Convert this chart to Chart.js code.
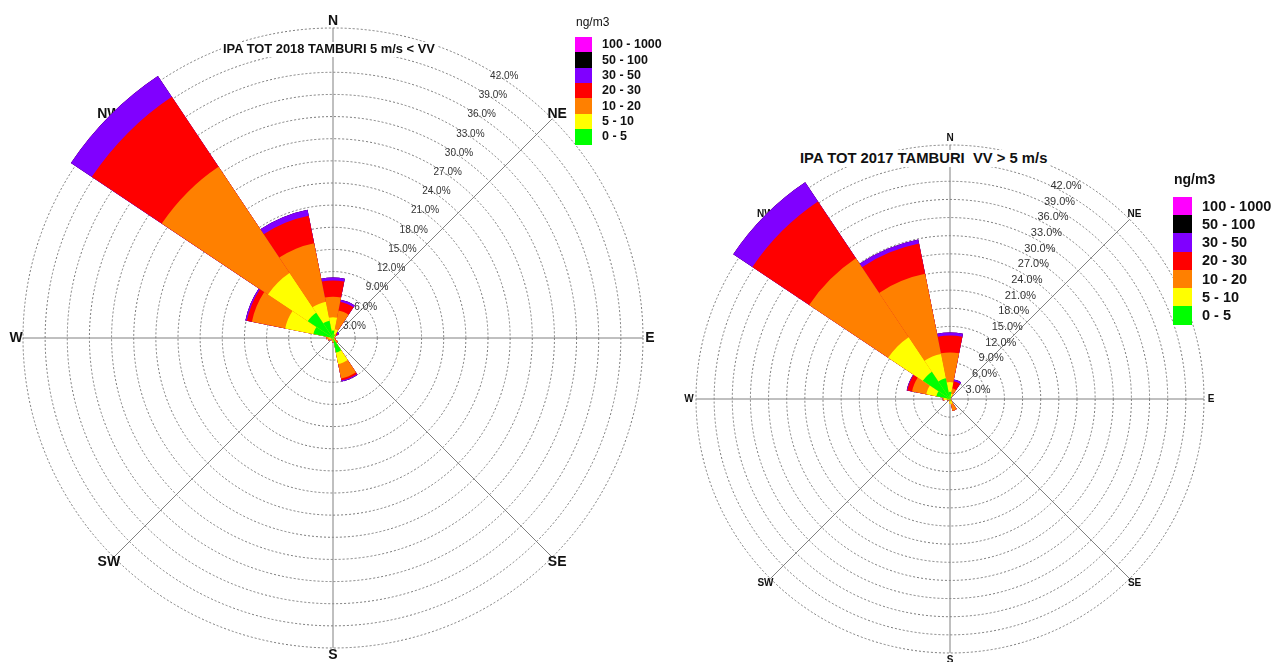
<!DOCTYPE html>
<html>
<head>
<meta charset="utf-8">
<title>IPA TOT - Tamburi</title>
<script src="https://cdn.jsdelivr.net/npm/chart.js@4.4.1/dist/chart.umd.min.js"></script>
<style>
  body { margin: 0; background: #fff; width: 1275px; height: 662px; overflow: hidden; position: relative;
         font-family: 'Liberation Sans', Arial, sans-serif; }
  canvas { position: absolute; top: 0; }
  .title { position: absolute; background: #fff; font-weight: bold; color: #111; white-space: pre; line-height: 1; padding: 1px 2px; }
  .lg { position: absolute; color: #111; line-height: 1; white-space: pre; }
  .box { position: absolute; }
</style>
</head>
<body>
<canvas id="c2018" width="660" height="662" style="left:0"></canvas>
<canvas id="c2017" width="615" height="662" style="left:660px"></canvas>
<div class="title" style="left:221px;top:42px;font-size:12.9px">IPA TOT 2018 TAMBURI 5 m/s &lt; VV</div>
<div class="title" style="left:798px;top:150px;font-size:14.8px">IPA TOT 2017 TAMBURI  VV &gt; 5 m/s</div>
<div id="legends"></div>
<script>
// Wind rose data: frequency (%) of hours per direction sector, split by concentration class
const directions = ['N', 'NNE', 'NE', 'ENE', 'E', 'ESE', 'SE', 'SSE', 'S', 'SSW', 'SW', 'WSW', 'W', 'WNW', 'NW', 'NNW'];
const compassLabels = ['N', 'NE', 'E', 'SE', 'S', 'SW', 'W', 'NW'];
const classLabels = ['0 - 5', '5 - 10', '10 - 20', '20 - 30', '30 - 50', '50 - 100', '100 - 1000'];
const classColors = ['#00ff00', '#ffff00', '#ff8000', '#ff0000', '#8000ff', '#000000', '#ff00ff'];
const ringTicks = [3, 6, 9, 12, 15, 18, 21, 24, 27, 30, 33, 36, 39, 42];

// 2018, 5 m/s < VV           N    NNE  NE   ENE  E     ESE  SE   SSE  S    SSW  SW   WSW  W    WNW  NW    NNW
const f2018_0_5      = [1.0, 0.5, 0.2, 0.1, 0.05, 0.1, 0.1, 2.0, 0.3, 0.1, 0.1, 0.2, 0.3, 2.7, 4.1,  2.4];
const f2018_5_10     = [1.8, 0.7, 0.2, 0.1, 0.05, 0.1, 0.2, 1.6, 0.2, 0.1, 0.1, 0.2, 0.3, 3.9, 6.5,  2.6];
const f2018_10_20    = [2.8, 2.6, 0.2, 0.1, 0,    0.2, 0.5, 2.0, 0.1, 0.1, 0.2, 0.3, 0.3, 4.6, 17.3, 8.1];
const f2018_20_30    = [2.2, 1.2, 0.2, 0,   0,    0,   0,   0.25, 0,  0,   0,   0,   0,   0.7, 11.4, 3.8];
const f2018_30_50    = [0.4, 0.3, 0.2, 0,   0,    0,   0,   0.15, 0,  0,   0,   0,   0,   0.2, 3.4,  0.8];
const f2018_50_100   = [0, 0, 0, 0, 0, 0, 0, 0, 0, 0, 0, 0, 0, 0, 0, 0];
const f2018_100_1000 = [0, 0, 0, 0, 0, 0, 0, 0, 0, 0, 0, 0, 0, 0, 0, 0];

// 2017, VV > 5 m/s           N    NNE  NE   ENE   E  ESE   SE   SSE  S    SSW  SW   WSW  W    WNW  NW    NNW
const f2017_0_5      = [1.2, 0.4, 0.1, 0.05, 0, 0.05, 0.1, 0.3, 0.3, 0.1, 0.1, 0.2, 0.5, 2.3, 5.4,  3.5];
const f2017_5_10     = [1.6, 0.5, 0.1, 0,    0, 0,    0.1, 0.5, 0.5, 0.1, 0,   0.2, 0.5, 1.7, 6.9,  4.1];
const f2017_10_20    = [4.9, 0.9, 0.1, 0,    0, 0,    0.2, 1.2, 0,   0,   0,   0.1, 0.2, 2.4, 15.7, 13.5];
const f2017_20_30    = [2.8, 1.2, 0,   0,    0, 0,    0,   0,   0,   0,   0,   0,   0,   0.8, 11.3, 5.1];
const f2017_30_50    = [0.5, 0.3, 0,   0,    0, 0,    0,   0,   0,   0,   0,   0,   0,   0.1, 3.8,  0.7];
const f2017_50_100   = [0, 0, 0, 0, 0, 0, 0, 0, 0, 0, 0, 0, 0, 0, 0, 0];
const f2017_100_1000 = [0, 0, 0, 0, 0, 0, 0, 0, 0, 0, 0, 0, 0, 0, 0, 0];

const FONT = "'Liberation Sans', Arial, sans-serif";

// axes, compass letters and % labels drawn from the radial scale
const roseDecor = {
    id: 'roseDecor',
    beforeDatasetsDraw(chart, args, o) {
        const r = chart.scales.r;
        const ctx = chart.ctx;
        const cx = r.xCenter, cy = r.yCenter, R = r.drawingArea;
        ctx.save();
        ctx.strokeStyle = '#808080';
        ctx.lineWidth = 1;
        for (let k = 0; k < 4; k++) {
            const a = k * Math.PI / 4;
            ctx.beginPath();
            ctx.moveTo(cx + R * Math.sin(a), cy - R * Math.cos(a));
            ctx.lineTo(cx - R * Math.sin(a), cy + R * Math.cos(a));
            ctx.stroke();
        }
        ctx.fillStyle = '#111';
        ctx.font = o.compassFont;
        ctx.textAlign = 'center';
        ctx.textBaseline = 'middle';
        compassLabels.forEach((lab, k) => {
            const a = k * Math.PI / 4;
            ctx.fillText(lab, cx + (R + 7) * Math.sin(a), cy - (R + 7) * Math.cos(a));
        });
        ctx.fillStyle = '#333';
        ctx.font = o.tickFont;
        ctx.textAlign = 'left';
        ringTicks.forEach(v => {
            const d = r.getDistanceFromCenterForValue(v);
            ctx.fillText(v.toFixed(1) + '%', cx + o.lx + o.sx * d, cy + o.ly - o.sy * d);
        });
        ctx.restore();
    }
};

function cumulative(bands) {
    const out = [];
    let run = bands[0].map(() => 0);
    bands.forEach(b => {
        run = run.map((v, i) => v + b[i]);
        out.push(run);
    });
    return out;
}

function makeRose(id, bands, decor) {
    const sums = cumulative(bands);
    return new Chart(document.getElementById(id), {
        type: 'polarArea',
        data: {
            labels: directions,
            datasets: sums.map((vals, k) => ({
                label: classLabels[k],
                data: vals,
                backgroundColor: classColors[k],
                borderWidth: 0,
                clip: false
            }))
        },
        options: {
            responsive: false,
            animation: false,
            events: [],
            layout: { padding: decor.padding },
            scales: {
                r: {
                    min: 0,
                    max: 42,
                    startAngle: -11.25,
                    ticks: { display: false, stepSize: 3 },
                    grid: { circular: true, color: '#7a7a7a', lineWidth: 1 },
                    border: { dash: [2, 2] },
                    angleLines: { display: false },
                    pointLabels: { display: false }
                }
            },
            plugins: {
                legend: { display: false },
                tooltip: { enabled: false },
                roseDecor: decor
            }
        },
        plugins: [roseDecor]
    });
}

function buildLegend(x, y, boxW, rowH, titleSize, itemSize, titleBold) {
    const host = document.getElementById('legends');
    const t = document.createElement('div');
    t.className = 'lg';
    t.textContent = 'ng/m3';
    t.style.cssText = `left:${x + 1}px;top:${y - rowH - titleSize * 0.5}px;font-size:${titleSize}px;font-weight:${titleBold ? 'bold' : 'normal'}`;
    host.appendChild(t);
    for (let i = 0; i < classLabels.length; i++) {
        const k = classLabels.length - 1 - i;
        const b = document.createElement('div');
        b.className = 'box';
        b.style.cssText = `left:${x}px;top:${y + i * rowH}px;width:${boxW}px;height:${rowH + 0.5}px;background:${classColors[k]}`;
        host.appendChild(b);
        const l = document.createElement('div');
        l.className = 'lg';
        l.textContent = classLabels[k];
        l.style.cssText = `left:${x + boxW + 10}px;top:${y + i * rowH + rowH / 2 - itemSize / 2}px;font-size:${itemSize}px;font-weight:bold`;
        host.appendChild(l);
    }
}

window.onload = () => {
    makeRose('c2018',
        [f2018_0_5, f2018_5_10, f2018_10_20, f2018_20_30, f2018_30_50, f2018_50_100, f2018_100_1000],
        { padding: { left: 23, top: 28, right: 17, bottom: 14 },
          compassFont: 'bold 14px ' + FONT, tickFont: '10px ' + FONT,
          lx: -1.3, ly: 7.2, sx: 0.511, sy: 0.868 });
    makeRose('c2017',
        [f2017_0_5, f2017_5_10, f2017_10_20, f2017_20_30, f2017_30_50, f2017_50_100, f2017_100_1000],
        { padding: { left: 36, top: 145, right: 71, bottom: 9 },
          compassFont: 'bold 10px ' + FONT, tickFont: '11px ' + FONT,
          lx: 9, ly: 6.5, sx: 0.36, sy: 0.865 });
    buildLegend(575, 37, 17, 15.3, 12, 12.5, false);
    buildLegend(1173, 197, 19, 18.2, 14, 14.5, true);
};
</script>
</body>
</html>
